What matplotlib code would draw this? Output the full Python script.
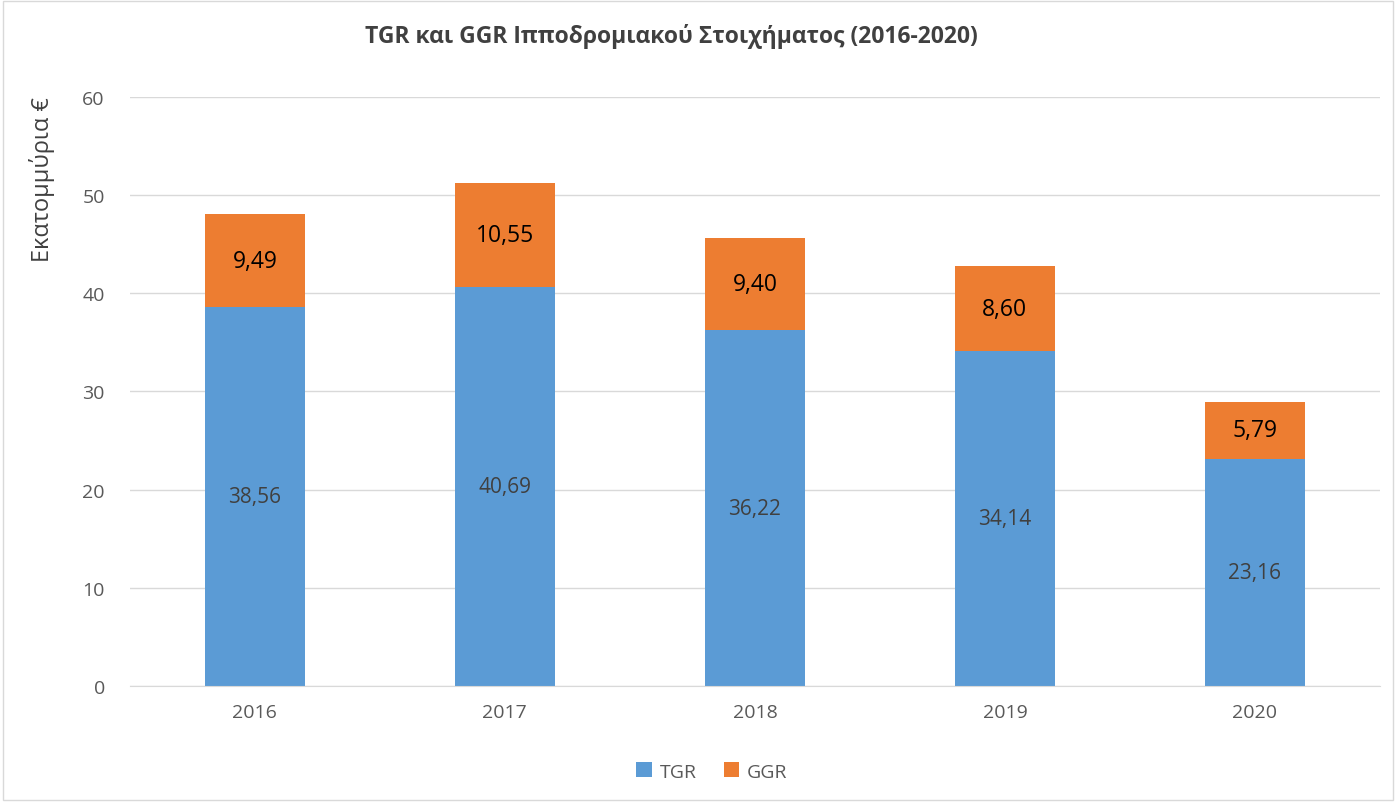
import matplotlib.pyplot as plt
import numpy as np

years = ['2016', '2017', '2018', '2019', '2020']
tgr = [38.56, 40.69, 36.22, 34.14, 23.16]
ggr = [9.49, 10.55, 9.40, 8.60, 5.79]

plt.rcParams['font.family'] = ['Open Sans', 'DejaVu Sans']

fig = plt.figure(figsize=(13.96, 8.03), dpi=100)
ax = fig.add_axes([0.093, 0.1445, 0.8955, 0.7335])

x = np.arange(len(years))
b1 = ax.bar(x, tgr, width=0.4, color='#5b9bd5', label='TGR', zorder=2)
b2 = ax.bar(x, ggr, width=0.4, bottom=tgr, color='#ed7d31', label='GGR', zorder=2)

for i in range(len(years)):
    ax.text(x[i], tgr[i] / 2, f'{tgr[i]:.2f}'.replace('.', ','), ha='center', va='center',
            fontsize=15, color='#404040')
    ax.text(x[i], tgr[i] + ggr[i] / 2, f'{ggr[i]:.2f}'.replace('.', ','), ha='center', va='center',
            fontsize=16.5, color='black')

ax.set_xlim(-0.5, 4.5)
ax.set_ylim(0, 60)
ax.set_yticks(range(0, 61, 10))
ax.set_xticks(x)
ax.set_xticklabels(years)
ax.tick_params(axis='both', length=0, labelsize=14, labelcolor='#595959')
ax.tick_params(axis='x', pad=12)
ax.tick_params(axis='y', pad=18)
ax.grid(axis='y', color='#d9d9d9', lw=1, zorder=0)
for s in ['top', 'right', 'left']:
    ax.spines[s].set_visible(False)
ax.spines['bottom'].set_color('#d9d9d9')

ax.set_ylabel('Εκατομμύρια €', fontsize=17, color='#404040')
ax.yaxis.set_label_coords(-0.06, 0.862)

fig.suptitle('TGR και GGR Ιπποδρομιακού Στοιχήματος (2016-2020)', x=0.481, y=0.97,
             fontsize=16.5, fontweight='bold', color='#404040')

fig.legend(handles=[b1, b2], loc='center', bbox_to_anchor=(0.51, 0.038), ncol=2, frameon=False,
           fontsize=14, handlelength=0.8, handleheight=0.8, columnspacing=1.4, handletextpad=0.4,
           labelcolor='#595959')

fig.patches.append(plt.Rectangle((0.002, 0.002), 0.996, 0.996, transform=fig.transFigure,
                                 fill=False, edgecolor='#d9d9d9', lw=1))

fig.savefig('out.png', dpi=100)
